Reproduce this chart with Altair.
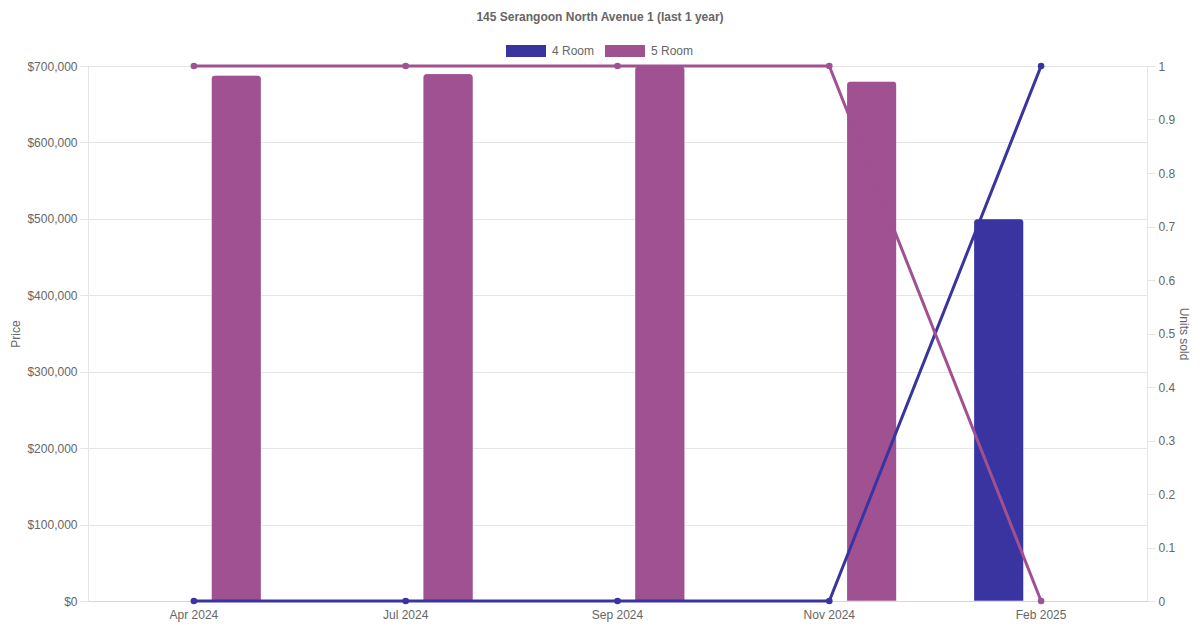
import altair as alt
import pandas as pd

months = ["Apr 2024", "Jul 2024", "Sep 2024", "Nov 2024", "Feb 2025"]
room_types = ["4 Room", "5 Room"]
price_4room = [None, None, None, None, 500000]
price_5room = [688000, 690000, 700000, 680000, None]
units_4room = [0, 0, 0, 0, 1]
units_5room = [1, 1, 1, 1, 0]
colors = ["#3934A0", "#A05192"]

rows = []
for i, m in enumerate(months):
    rows.append({"month": m, "type": "4 Room", "price": price_4room[i], "units": units_4room[i]})
    rows.append({"month": m, "type": "5 Room", "price": price_5room[i], "units": units_5room[i]})
df = pd.DataFrame(rows)

FONT = "Liberation Sans"
GRID = "#e5e5e5"
TXT = "#666666"

W, H = 1059, 535

x_enc = alt.X("month:N", sort=months,
              scale=alt.Scale(paddingInner=0, paddingOuter=0),
              axis=alt.Axis(title=None, labelAngle=0, ticks=False, grid=False,
                            domainColor="#d6d6d6", labelColor=TXT, labelFontSize=12,
                            labelFont=FONT, labelPadding=8))

color_enc = alt.Color("type:N", sort=room_types,
                      scale=alt.Scale(domain=room_types, range=colors),
                      legend=alt.Legend(title=None, orient="none", direction="horizontal",
                                        legendX=418, legendY=-35,
                                        symbolType="M-1,-0.3H1V0.3H-1Z", symbolSize=1600,
                                        symbolStrokeWidth=0, labelFont=FONT, labelFontSize=12,
                                        labelColor=TXT, labelOffset=6, columnPadding=10))

bars = alt.Chart(df).transform_filter("datum.price != null").mark_bar(
    width=50, cornerRadiusTopLeft=4, cornerRadiusTopRight=4,
    stroke="white", strokeOpacity=0.3, strokeWidth=1
).encode(
    x=x_enc,
    xOffset=alt.XOffset("type:N", sort=room_types,
                        scale=alt.Scale(domain=room_types, paddingInner=0, paddingOuter=0.25)),
    y=alt.Y("price:Q", scale=alt.Scale(domain=[0, 700000], nice=False),
            axis=alt.Axis(title="Price", values=list(range(0, 700001, 100000)), format="$,.0f",
                          orient="left", gridColor=GRID, domainColor=GRID, tickColor=GRID,
                          tickSize=8, labelPadding=3, labelColor=TXT, labelFontSize=12,
                          labelFont=FONT, titleFont=FONT, titleFontSize=12, titleColor=TXT,
                          titleFontWeight="normal", titleAngle=-90, titleBaseline="middle",
                          titleX=-73, titleY=H / 2, titleAlign="center")),
    color=color_enc,
)

lines = alt.Chart(df).mark_line(strokeWidth=3, point=alt.OverlayMarkDef(size=44, filled=True)).encode(
    x=x_enc,
    y=alt.Y("units:Q", scale=alt.Scale(domain=[0, 1], nice=False),
            axis=alt.Axis(title="Units sold", values=[i / 10 for i in range(11)], format=".1~f",
                          orient="right", grid=False, domainColor=GRID, tickColor=GRID,
                          tickSize=8, labelPadding=3, labelColor=TXT, labelFontSize=12,
                          labelFont=FONT, titleFont=FONT, titleFontSize=12, titleColor=TXT,
                          titleFontWeight="normal", titleAngle=90, titleBaseline="middle",
                          titleX=36, titleY=H / 2, titleAlign="center")),
    color=alt.Color("type:N", sort=room_types,
                    scale=alt.Scale(domain=room_types, range=colors), legend=None),
)

chart = alt.layer(bars, lines).resolve_scale(y="independent").properties(
    width=W, height=H,
    title=alt.TitleParams("145 Serangoon North Avenue 1 (last 1 year)", font=FONT, fontSize=12,
                          fontWeight="bold", color=TXT, anchor="middle", dx=-17.5, offset=7),
    autosize=alt.AutoSizeParams(type="none"),
    padding={"left": 80, "top": 58, "right": 45, "bottom": 21},
).configure_view(stroke=None).configure(background="white")

chart.save("out.html", embed_options={"renderer": "svg", "actions": False})
